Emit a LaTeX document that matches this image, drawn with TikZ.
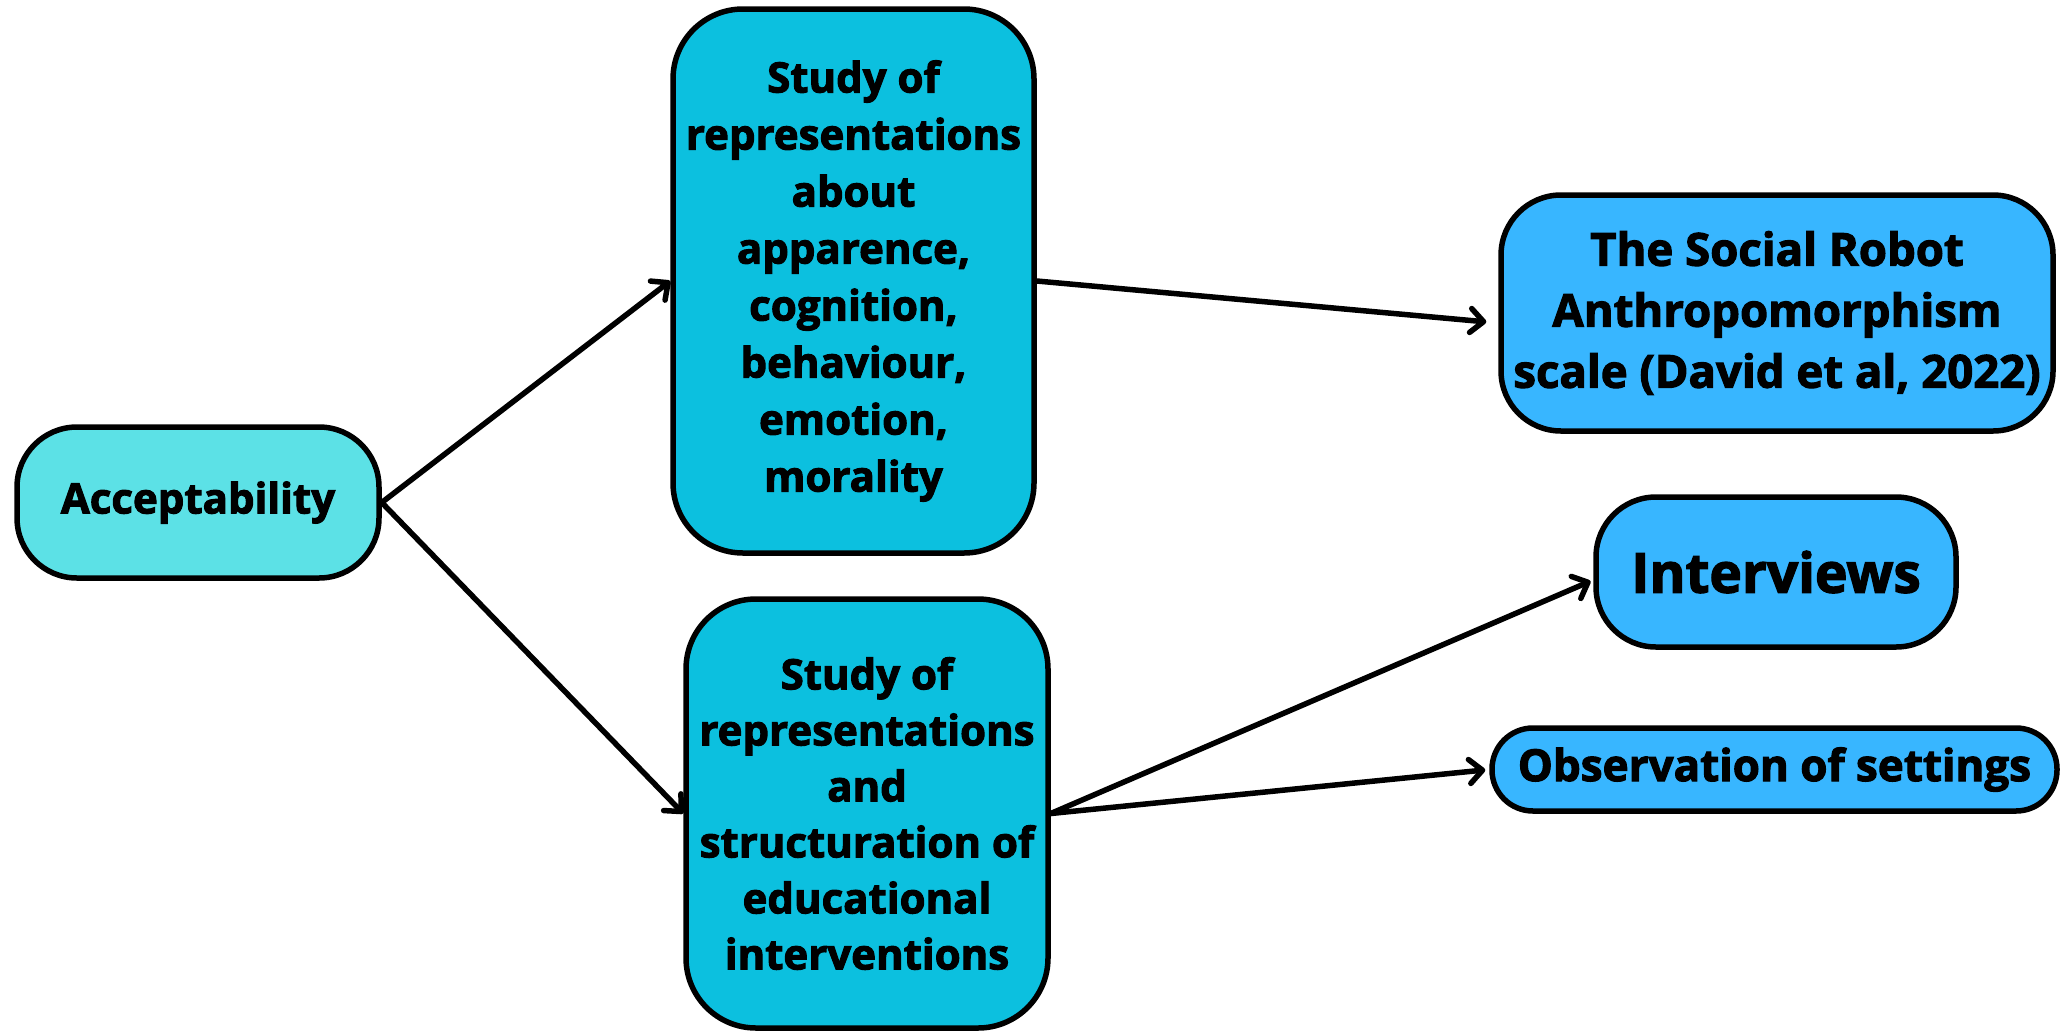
\documentclass[tikz,border=0pt]{standalone}
\usepackage{fontspec}
\setmainfont{Open Sans}[BoldFeatures={FakeBold=2.4}]
\usetikzlibrary{arrows.meta}
\definecolor{accfill}{HTML}{5CE1E6}
\definecolor{midfill}{HTML}{0CC0DF}
\definecolor{rightfill}{HTML}{38B6FF}
\tikzset{
  boxbase/.style={draw=black, line width=5.5pt, rounded corners=#1, align=center, inner sep=0pt, font=\bfseries\fontsize{42}{57}\selectfont},
  conn/.style={line width=5.5pt, line cap=round, -{Straight Barb[length=13pt,width=24pt,line width=5.5pt,round]}},
}
\begin{document}
\begin{tikzpicture}[x=1pt,y=-1pt]
\useasboundingbox (0,0) rectangle (2061,1031);
\node[boxbase=60pt, fill=accfill, minimum width=362pt, minimum height=151pt] (acc) at (198,502.5) {Acceptability};
\node[boxbase=70pt, fill=midfill, minimum width=361pt, minimum height=544pt] (b1) at (853.5,281) {Study of\\representations\\about\\apparence,\\cognition,\\behaviour,\\emotion,\\morality};
\node[boxbase=70pt, fill=midfill, minimum width=362pt, minimum height=429pt, font=\bfseries\fontsize{42}{56}\selectfont] (b2) at (867,813.5) {Study of\\representations\\and\\structuration of\\educational\\interventions};
\node[boxbase=60pt, fill=rightfill, minimum width=552pt, minimum height=236pt, font=\bfseries\fontsize{45.5}{61}\selectfont] (srs) at (1777,313) {The Social Robot\\Anthropomorphism\\scale (David et al, 2022)};
\node[boxbase=60pt, fill=rightfill, minimum width=360pt, minimum height=150pt, font=\bfseries\fontsize{55}{60}\selectfont] (int) at (1776,572) {Interviews};
\node[boxbase=41pt, fill=rightfill, minimum width=565pt, minimum height=83pt, font=\bfseries\fontsize{44}{50}\selectfont] (obs) at (1774.5,769.5) {Observation of settings};
\draw[conn] (acc.east) -- (b1.west);
\draw[conn] (acc.east) -- (b2.west);
\draw[conn, shorten >=12pt] (b1.east) -- ([yshift=-10pt]srs.west);
\draw[conn, shorten >=3pt] (b2.east) -- ([yshift=-8pt]int.west);
\draw[conn, shorten >=4pt] (b2.east) -- (obs.west);
\end{tikzpicture}
\end{document}
